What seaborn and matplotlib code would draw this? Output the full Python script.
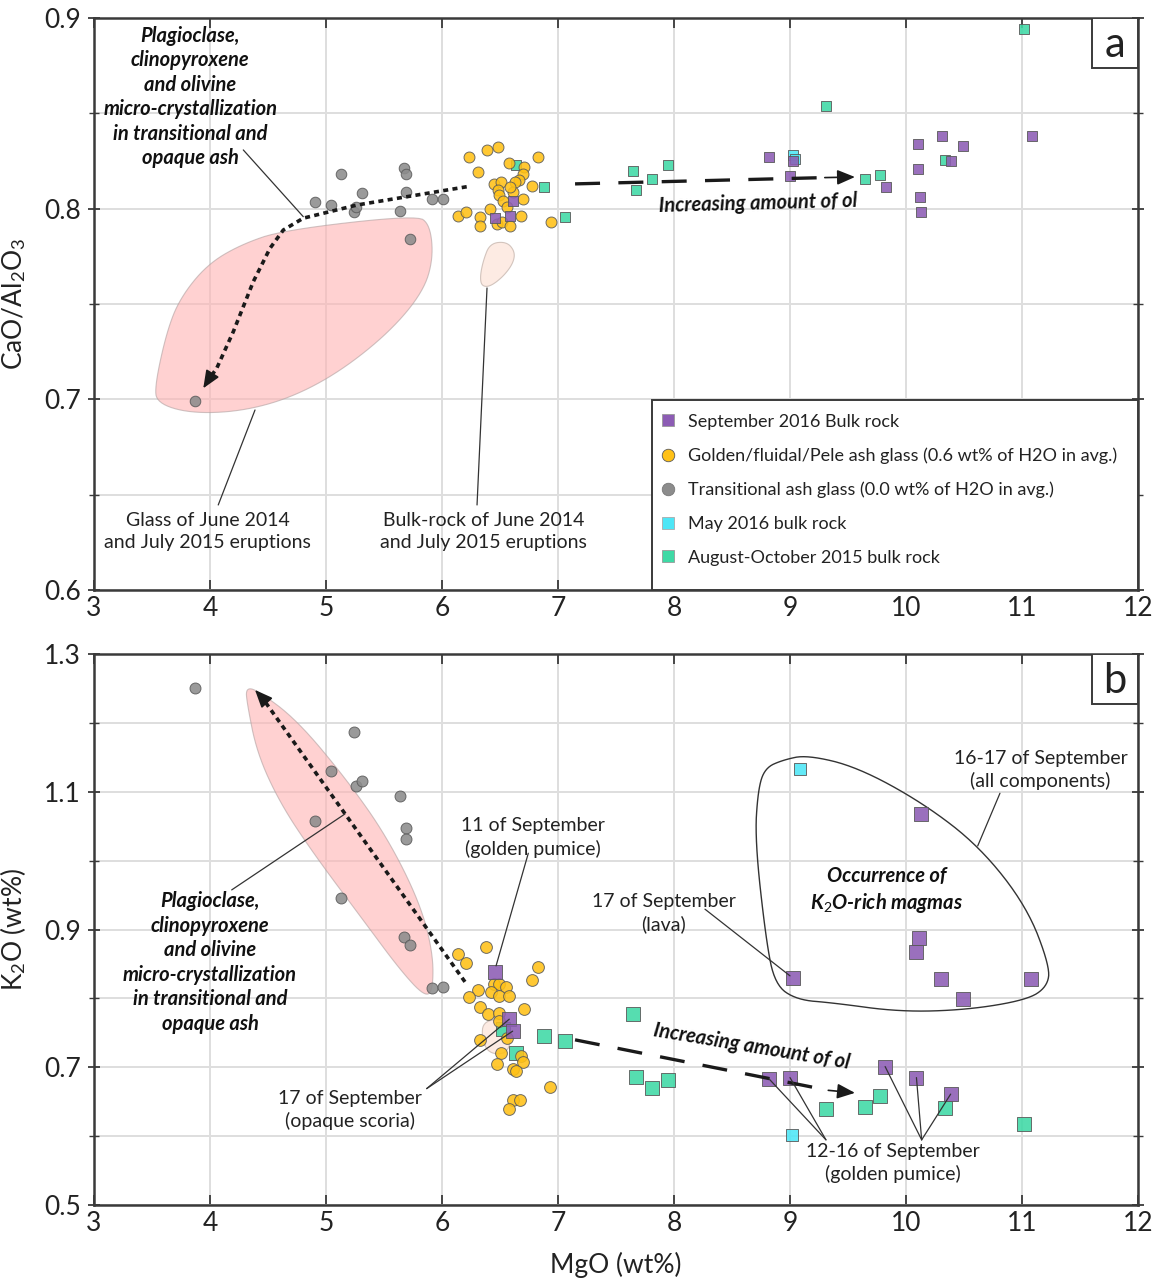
import numpy as np
import pandas as pd
import matplotlib
matplotlib.use("Agg")
import matplotlib.pyplot as plt
import seaborn as sns
from matplotlib.lines import Line2D
from matplotlib.patches import Polygon, Rectangle
from matplotlib.ticker import MultipleLocator

# ---------------- data ----------------
# Panel a : CaO/Al2O3 vs MgO
a_sep2016_mgo = [6.61, 6.46, 6.59, 8.82, 9.03, 9.00, 9.83, 10.10, 10.31, 10.49, 10.10, 10.39, 10.12, 10.13, 11.09]
a_sep2016_val = [0.804, 0.795, 0.796, 0.827, 0.825, 0.817, 0.8115, 0.834, 0.838, 0.833, 0.821, 0.825, 0.806, 0.798, 0.838]

a_gold_mgo = [6.23, 6.385, 6.485, 6.83, 6.58, 6.71, 6.70, 6.31, 6.45, 6.51, 6.66, 6.63, 6.78, 6.485, 6.49,
              6.61, 6.59, 6.53, 6.70, 6.56, 6.41, 6.14, 6.21, 6.33, 6.33, 6.47, 6.52, 6.59, 6.68, 6.94]
a_gold_val = [0.827, 0.831, 0.8325, 0.827, 0.824, 0.822, 0.818, 0.819, 0.813, 0.814, 0.815, 0.814, 0.812, 0.810, 0.807,
              0.809, 0.8115, 0.804, 0.805, 0.801, 0.800, 0.796, 0.798, 0.7955, 0.791, 0.792, 0.793, 0.791, 0.796, 0.793]

gray_mgo = [3.87, 4.905, 5.04, 5.13, 5.24, 5.26, 5.31, 5.64, 5.67, 5.69, 5.69, 5.72, 5.91, 6.01]
a_gray_val = [0.699, 0.8037, 0.802, 0.818, 0.7984, 0.8007, 0.8084, 0.7988, 0.8212, 0.818, 0.8089, 0.784, 0.805, 0.805]

a_may2016_mgo = [9.03, 9.04]
a_may2016_val = [0.828, 0.826]

a_augoct_mgo = [6.64, 6.88, 7.06, 7.645, 7.67, 7.81, 7.95, 9.31, 9.65, 9.78, 10.34, 11.02]
a_augoct_val = [0.823, 0.8115, 0.7955, 0.8197, 0.810, 0.8155, 0.8228, 0.8537, 0.8155, 0.8174, 0.8253, 0.8941]

# Panel b : K2O vs MgO
b_sep2016_mgo = [6.46, 6.58, 6.615, 8.82, 9.00, 9.03, 9.82, 10.09, 10.385, 10.13, 10.115, 10.09, 10.30, 11.08, 10.49]
b_sep2016_val = [0.838, 0.770, 0.752, 0.683, 0.685, 0.830, 0.701, 0.685, 0.661, 1.068, 0.888, 0.867, 0.828, 0.828, 0.799]

b_gold_mgo = [6.38, 6.135, 6.21, 6.83, 6.78, 6.45, 6.49, 6.55, 6.42, 6.49, 6.58, 6.31, 6.23, 6.33, 6.71,
              6.40, 6.49, 6.49, 6.33, 6.56, 6.51, 6.47, 6.68, 6.70, 6.61, 6.64, 6.93, 6.61, 6.67, 6.58]
b_gold_val = [0.875, 0.864, 0.851, 0.845, 0.827, 0.821, 0.821, 0.816, 0.809, 0.803, 0.804, 0.812, 0.802, 0.788, 0.784,
              0.777, 0.779, 0.767, 0.740, 0.742, 0.720, 0.705, 0.717, 0.707, 0.697, 0.695, 0.672, 0.653, 0.652, 0.640]

b_gray_val = [1.25, 1.057, 1.130, 0.946, 1.187, 1.109, 1.115, 1.094, 0.889, 1.048, 1.031, 0.877, 0.815, 0.816]

b_may2016_mgo = [9.09, 9.02]
b_may2016_val = [1.133, 0.601]

b_augoct_mgo = [6.53, 6.64, 6.88, 7.06, 7.65, 7.67, 7.81, 7.95, 9.31, 9.65, 9.78, 10.34, 11.02]
b_augoct_val = [0.755, 0.720, 0.746, 0.738, 0.778, 0.686, 0.670, 0.682, 0.639, 0.643, 0.658, 0.6405, 0.618]

x_ticks = [3, 4, 5, 6, 7, 8, 9, 10, 11, 12]
a_yticks = [0.6, 0.7, 0.8, 0.9]
b_yticks = [0.5, 0.7, 0.9, 1.1, 1.3]

labels = ["September 2016 Bulk rock",
          "Golden/fluidal/Pele ash glass (0.6 wt% of H2O in avg.)",
          "Transitional ash glass (0.0 wt% of H2O in avg.)",
          "May 2016 bulk rock",
          "August-October 2015 bulk rock"]

# ---------------- style ----------------
sns.set_theme(style="white")
plt.rcParams['font.family'] = ['Lato', 'DejaVu Sans']
plt.rcParams['mathtext.fontset'] = 'custom'
plt.rcParams['mathtext.rm'] = 'Lato'
plt.rcParams['mathtext.it'] = 'Lato:italic'
plt.rcParams['mathtext.bf'] = 'Lato:bold'

PURPLE = '#8C5CB4'
GOLD = '#FFC116'
GRAY = '#8C8C8C'
CYAN = '#4DE6F6'
TEAL = '#3ED9A5'
EDGE = '#5a5a5a'
SPINE = '#3a3a3a'
TXT = '#222222'

fig = plt.figure(figsize=(11.58, 12.79), dpi=100)
axa = fig.add_axes([94/1158, 1-590/1279, 1044/1158, 572/1279])
axb = fig.add_axes([94/1158, 1-1205/1279, 1044/1158, 551/1279])


def frame(pts):
    return pd.DataFrame({'MgO': pts[0], 'val': pts[1]})


def chaikin(pts, n=4):
    p = np.asarray(pts, dtype=float)
    for _ in range(n):
        q = 0.75 * p + 0.25 * np.roll(p, -1, axis=0)
        r = 0.25 * p + 0.75 * np.roll(p, -1, axis=0)
        p = np.empty((2 * len(q), 2))
        p[0::2] = q
        p[1::2] = r
    return p


def scatter(ax, x, y, color, marker, s, z):
    sns.scatterplot(data=frame((x, y)), x='MgO', y='val', ax=ax, color=color, marker=marker,
                    s=s, edgecolor=EDGE, linewidth=0.7, alpha=0.88, zorder=z, legend=False)


def style_axes(ax, ylim, ymajor, yminor):
    ax.set_xlim(3, 12)
    ax.set_ylim(*ylim)
    ax.set_xticks(x_ticks)
    ax.yaxis.set_major_locator(MultipleLocator(ymajor))
    ax.yaxis.set_minor_locator(MultipleLocator(yminor))
    ax.grid(True, which='both', color='#dedede', lw=1.4)
    ax.set_axisbelow(True)
    for sp in ax.spines.values():
        sp.set_visible(True)
        sp.set_color(SPINE)
        sp.set_linewidth(1.8)
    ax.tick_params(axis='both', which='both', top=True, right=True, bottom=True, left=True,
                   labelsize=19, colors=SPINE, labelcolor=TXT)
    ax.tick_params(which='major', direction='inout', length=9, width=1.3)
    ax.tick_params(which='minor', direction='inout', length=7, width=1.0)
    ax.tick_params(axis='x', which='major', direction='out', length=7, pad=4)
    ax.tick_params(axis='x', top=True, direction='in')
    ax.tick_params(axis='y', pad=5)


def dashed_arrow(ax, pts, style, lw):
    pts = np.asarray(pts)
    ax.plot(pts[:-1, 0], pts[:-1, 1], color='k', lw=lw, linestyle=style,
            solid_capstyle='butt', dash_capstyle='butt', zorder=6)
    ax.annotate('', xy=pts[-1], xytext=pts[-2],
                arrowprops=dict(arrowstyle='-|>,head_length=0.9,head_width=0.38',
                                color='k', lw=1.2, shrinkA=0, shrinkB=0), zorder=6)


def leader(ax, p0, p1):
    ax.plot([p0[0], p1[0]], [p0[1], p1[1]], color='#333333', lw=0.9, zorder=7)


bi = dict(fontweight='bold', fontstyle='italic', fontsize=14.5, color='#111111', zorder=8)
reg = dict(fontsize=14, color=TXT, ha='center', va='center', linespacing=1.35, zorder=8)
plag = "Plagioclase,\nclinopyroxene\nand olivine\nmicro-crystallization\nin transitional and\nopaque ash"

# ---------------- panel a ----------------
ax = axa
style_axes(ax, (0.6, 0.9), 0.1, 0.05)
ax.set_yticks(a_yticks)

pink_a = [(4.632, 0.7888), (5.782, 0.7967), (5.897, 0.7915), (5.925, 0.774), (5.839, 0.7565),
          (5.552, 0.7355), (5.121, 0.7145), (4.69, 0.7006), (4.259, 0.6936), (3.828, 0.6927),
          (3.541, 0.698), (3.526, 0.7076), (3.627, 0.7355), (3.741, 0.753), (3.972, 0.7705), (4.259, 0.781)]
ax.add_patch(Polygon(chaikin(pink_a, 3), closed=True, facecolor='#FFB3B3', alpha=0.6,
                     edgecolor='#b0a0a0', lw=0.8, zorder=1))
beige_a = [(6.414, 0.7818), (6.557, 0.7827), (6.629, 0.7775), (6.614, 0.7714), (6.528, 0.7644),
           (6.414, 0.7591), (6.342, 0.7594), (6.328, 0.7644), (6.357, 0.7731)]
ax.add_patch(Polygon(chaikin(beige_a, 3), closed=True, facecolor='#FDE6DD', alpha=0.8,
                     edgecolor='#c8b8b0', lw=0.8, zorder=1))

scatter(ax, gray_mgo, a_gray_val, GRAY, 'o', 58, 3)
scatter(ax, a_augoct_mgo, a_augoct_val, TEAL, 's', 42, 3)
scatter(ax, a_may2016_mgo, a_may2016_val, CYAN, 's', 50, 3)
scatter(ax, a_gold_mgo, a_gold_val, GOLD, 'o', 62, 4)
scatter(ax, a_sep2016_mgo, a_sep2016_val, PURPLE, 's', 55, 5)

dashed_arrow(ax, [(6.213, 0.8115), (5.265, 0.8019), (4.804, 0.795), (4.632, 0.7888), (4.517, 0.7792),
                  (4.373, 0.7617), (4.201, 0.7355), (4.058, 0.7163), (3.99, 0.7105), (3.942, 0.7058)],
             (0, (1.4, 1.2)), 2.6)
dashed_arrow(ax, [(7.147, 0.813), (9.30, 0.8163), (9.56, 0.8166)], (0, (7.5, 5.5)), 2.4)

ax.text(3.83, 0.8585, plag, ha='center', va='center', linespacing=1.28, **bi)
leader(ax, (4.287, 0.8308), (4.804, 0.7958))
ax.text(8.72, 0.8030, "Increasing amount of ol", ha='center', va='center', rotation=1.5, **bi)

ax.text(3.98, 0.6305, "Glass of June 2014\nand July 2015 eruptions", **reg)
leader(ax, (4.071, 0.6446), (4.388, 0.6944))
ax.text(6.36, 0.6305, "Bulk-rock of June 2014\nand July 2015 eruptions", **reg)
leader(ax, (6.302, 0.6446), (6.388, 0.7584))

# legend
x0 = (652 - 94) / 1044
ax.add_patch(Rectangle((x0, 0), 1 - x0, 190 / 572, transform=ax.transAxes, facecolor='white',
                       edgecolor=SPINE, lw=1.4, zorder=9))
handles = [
    Line2D([], [], ls='none', marker='s', ms=8, mfc=PURPLE, mec='#999999', mew=0.6),
    Line2D([], [], ls='none', marker='o', ms=9, mfc=GOLD, mec=EDGE, mew=0.6),
    Line2D([], [], ls='none', marker='o', ms=9, mfc=GRAY, mec='#777777', mew=0.6),
    Line2D([], [], ls='none', marker='s', ms=8, mfc=CYAN, mec='#aaaaaa', mew=0.6),
    Line2D([], [], ls='none', marker='s', ms=8, mfc=TEAL, mec='#999999', mew=0.6),
]
leg = ax.legend(handles, labels, loc='upper left', bbox_to_anchor=(x0 + 0.003, 180 / 572), frameon=False,
                fontsize=13, handlelength=1.0, handletextpad=0.6, labelspacing=0.98, borderaxespad=0,
                borderpad=0.2)
leg.set_zorder(10)
for t in leg.get_texts():
    t.set_color(TXT)

ax.add_patch(Rectangle((1 - 46 / 1044, 1 - 50 / 572), 46 / 1044, 50 / 572, transform=ax.transAxes,
                       facecolor='white', edgecolor=SPINE, lw=1.4, zorder=9))
ax.text(1 - 23 / 1044, 1 - 27 / 572, "a", transform=ax.transAxes, ha='center', va='center',
        fontsize=30, color=TXT, zorder=10)

ax.set_xlabel("")
ax.set_ylabel("CaO/Al$_2$O$_3$", fontsize=19, color=TXT)
ax.yaxis.set_label_coords(-0.063, 0.5)

# ---------------- panel b ----------------
ax = axb
style_axes(ax, (0.5, 1.3), 0.2, 0.1)
ax.set_yticks(b_yticks)

pink_b = [(4.310, 1.2507), (4.405, 1.2478), (4.750, 1.2042), (5.181, 1.1171), (5.526, 1.0344),
          (5.810, 0.9386), (5.922, 0.866), (5.922, 0.8123), (5.853, 0.8022), (5.638, 0.8414),
          (5.319, 0.9139), (4.888, 1.0112), (4.603, 1.0837), (4.405, 1.1563), (4.319, 1.2289)]
ax.add_patch(Polygon(chaikin(pink_b, 3), closed=True, facecolor='#FFB3B3', alpha=0.6,
                     edgecolor='#b0a0a0', lw=0.8, zorder=1))
beige_b = [(6.356, 0.769), (6.6, 0.769), (6.586, 0.721), (6.414, 0.7185), (6.342, 0.740)]
ax.add_patch(Polygon(chaikin(beige_b, 3), closed=True, facecolor='#FDE6DD', alpha=0.8,
                     edgecolor='#c8b8b0', lw=0.8, zorder=1))
k_rich = [(8.940, 1.1462), (9.147, 1.1534), (9.578, 1.136), (10.147, 1.0837), (10.638, 1.0199),
          (11.043, 0.9328), (11.241, 0.8457), (11.216, 0.8167), (11.043, 0.7978), (10.526, 0.7833),
          (9.948, 0.7804), (9.371, 0.7935), (9.060, 0.7978), (8.871, 0.8196), (8.793, 0.8849),
          (8.698, 1.03), (8.724, 1.1026), (8.784, 1.1345)]
ax.add_patch(Polygon(chaikin(k_rich, 3), closed=True, facecolor='none', edgecolor='#333333',
                     lw=1.0, zorder=2))

scatter(ax, gray_mgo, b_gray_val, GRAY, 'o', 62, 3)
scatter(ax, b_augoct_mgo, b_augoct_val, TEAL, 's', 95, 3)
scatter(ax, b_may2016_mgo, b_may2016_val, CYAN, 's', 70, 3)
scatter(ax, b_gold_mgo, b_gold_val, GOLD, 'o', 72, 4)
scatter(ax, b_sep2016_mgo, b_sep2016_val, PURPLE, 's', 95, 5)

dashed_arrow(ax, [(6.198, 0.824), (4.45, 1.2365), (4.388, 1.2478)], (0, (1.4, 1.2)), 2.6)
dashed_arrow(ax, [(7.147, 0.7398), (9.33, 0.6665), (9.56, 0.6628)], (0, (7.5, 5.5)), 2.4)

ax.text(4.0, 0.852, plag, ha='center', va='center', linespacing=1.28, **bi)
leader(ax, (4.187, 0.9575), (5.164, 1.0678))
ax.text(8.67, 0.730, "Increasing amount of ol", ha='center', va='center', rotation=-9.5,
        rotation_mode='anchor', **bi)
ax.text(9.83, 0.957, "Occurrence of\nK$_2$O-rich magmas", ha='center', va='center', linespacing=1.3, **bi)

ax.text(6.78, 1.0335, "11 of September\n(golden pumice)", **reg)
leader(ax, (6.744, 1.0107), (6.466, 0.8472))
ax.text(7.91, 0.924, "17 of September\n(lava)", **reg)
leader(ax, (8.267, 0.9295), (9.0, 0.8327))
ax.text(11.16, 1.1315, "16-17 of September\n(all components)", **reg)
leader(ax, (10.81, 1.0978), (10.618, 1.0213))
ax.text(5.21, 0.6375, "17 of September\n(opaque scoria)", **reg)
leader(ax, (5.868, 0.669), (6.58, 0.7698))
leader(ax, (5.868, 0.669), (6.609, 0.7524))
ax.text(9.89, 0.5605, "12-16 of September\n(golden pumice)", **reg)
for p in [(8.82, 0.683), (9.00, 0.685)]:
    leader(ax, (9.31, 0.5946), p)
for p in [(9.82, 0.701), (10.09, 0.685), (10.385, 0.661)]:
    leader(ax, (10.135, 0.5946), p)

ax.add_patch(Rectangle((1 - 46 / 1044, 1 - 50 / 551), 46 / 1044, 50 / 551, transform=ax.transAxes,
                       facecolor='white', edgecolor=SPINE, lw=1.4, zorder=9))
ax.text(1 - 23 / 1044, 1 - 27 / 551, "b", transform=ax.transAxes, ha='center', va='center',
        fontsize=30, color=TXT, zorder=10)

ax.set_xlabel("MgO (wt%)", fontsize=19, color=TXT)
ax.xaxis.set_label_coords(0.5, -0.085)
ax.set_ylabel("K$_2$O (wt%)", fontsize=19, color=TXT)
ax.yaxis.set_label_coords(-0.063, 0.5)

fig.savefig("out.png", dpi=100, facecolor='white')
